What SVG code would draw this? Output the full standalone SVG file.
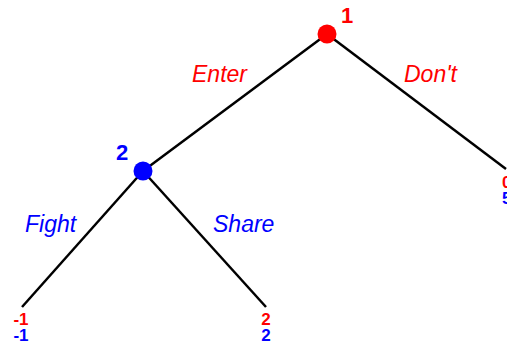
<svg xmlns="http://www.w3.org/2000/svg" width="507" height="347" viewBox="0 0 507 347">
<style>
.edge{stroke:#000;stroke-width:2.5;fill:none}
.lab{font-family:"Liberation Sans",Arial,sans-serif;font-style:italic;font-size:23px}
.pl{font-family:"Liberation Sans",Arial,sans-serif;font-weight:bold;font-size:22px}
.pay{font-family:"Liberation Sans",Arial,sans-serif;font-weight:bold;font-size:17px}
.r{fill:#ff0000}
.b{fill:#0000ff}
</style>
<rect width="507" height="347" fill="#fff"/>
<g id="connectors">
<line class="edge" x1="327" y1="34" x2="143" y2="171"/>
<line class="edge" x1="327" y1="34" x2="506" y2="169"/>
<line class="edge" x1="143" y1="171" x2="22" y2="307"/>
<line class="edge" x1="143" y1="171" x2="266" y2="307"/>
<text class="lab r" x="192" y="82">Enter</text>
<text class="lab r" x="404" y="82">Don't</text>
<text class="lab b" x="25" y="232">Fight</text>
<text class="lab b" x="213" y="232">Share</text>
</g>
<g id="node1">
<circle cx="327" cy="34" r="9.5" fill="#ff0000"/>
<text class="pl r" x="341" y="23">1</text>
</g>
<g id="node2">
<circle cx="143" cy="171" r="9.5" fill="#0000ff"/>
<text class="pl b" x="116" y="160">2</text>
</g>
<g id="leaf-fight">
<text class="pay r" x="21" y="325" text-anchor="middle">-1</text>
<text class="pay b" x="21" y="341" text-anchor="middle">-1</text>
</g>
<g id="leaf-share">
<text class="pay r" x="266" y="325" text-anchor="middle">2</text>
<text class="pay b" x="266" y="341" text-anchor="middle">2</text>
</g>
<g id="leaf-dont">
<text class="pay r" x="502" y="188">0</text>
<text class="pay b" x="502" y="204">5</text>
</g>
</svg>
